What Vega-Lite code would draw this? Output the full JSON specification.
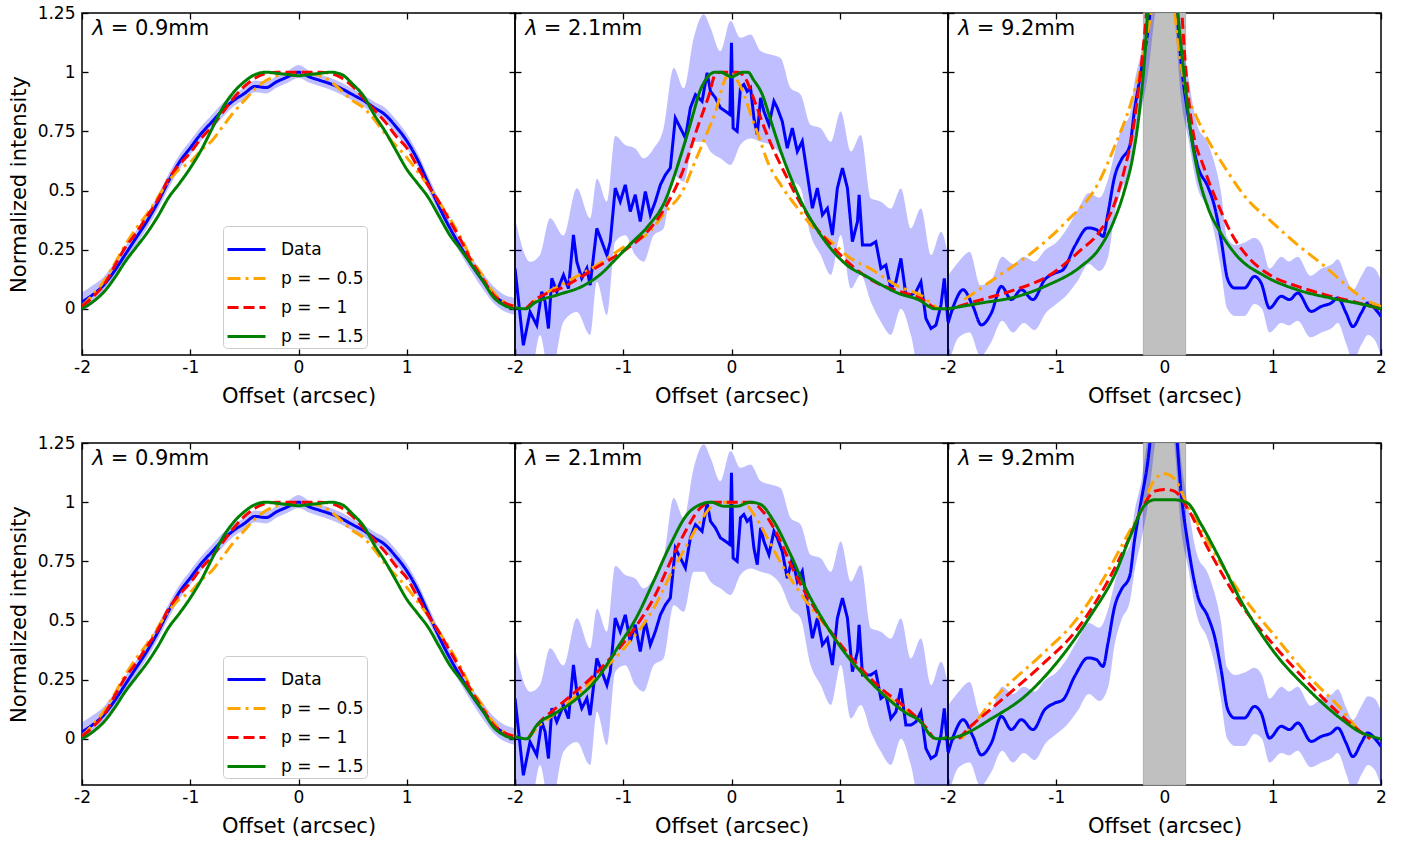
{
"$schema": "https://vega.github.io/schema/vega-lite/v6.json",
"padding": {"left": 7, "top": 3, "right": 5, "bottom": 5},
"bounds": "flush",
"config": {
  "font": "DejaVu Sans",
  "view": {"stroke": "black", "strokeWidth": 1.5},
  "axis": {"grid": false, "domain": false, "tickColor": "black", "tickWidth": 1.3, "tickSize": -6, "labelColor": "black", "labelFontSize": 17, "labelFont": "DejaVu Sans", "titleFont": "DejaVu Sans", "titleFontSize": 21, "titleFontWeight": "normal", "titleColor": "black", "labelFlush": false, "labelOverlap": false},
  "axisX": {"labelPadding": 10, "titlePadding": 10},
  "axisY": {"labelPadding": 13, "titlePadding": 8},
  "legend": {"orient": "none", "legendX": 141, "legendY": 213, "title": null, "fillColor": "rgba(255,255,255,0.8)", "strokeColor": "#cccccc", "cornerRadius": 4, "padding": 3, "labelFontSize": 17, "labelFont": "DejaVu Sans", "labelColor": "black", "symbolType": "stroke", "symbolSize": 1444, "symbolStrokeWidth": 3, "rowPadding": -2, "labelOffset": 14}
},
"datasets": {
"band": [
{"lam":"0.9","x":-2.0,"lo":-0.01,"hi":0.07},{"lam":"0.9","x":-1.9,"lo":0.02,"hi":0.1},{"lam":"0.9","x":-1.8,"lo":0.065,"hi":0.135},{"lam":"0.9","x":-1.7,"lo":0.125,"hi":0.195},{"lam":"0.9","x":-1.6,"lo":0.195,"hi":0.265},{"lam":"0.9","x":-1.5,"lo":0.27,"hi":0.33},{"lam":"0.9","x":-1.4,"lo":0.34,"hi":0.4},{"lam":"0.9","x":-1.3,"lo":0.42,"hi":0.48},{"lam":"0.9","x":-1.2,"lo":0.51,"hi":0.57},{"lam":"0.9","x":-1.1,"lo":0.59,"hi":0.65},{"lam":"0.9","x":-1.0,"lo":0.65,"hi":0.71},{"lam":"0.9","x":-0.9,"lo":0.71,"hi":0.77},{"lam":"0.9","x":-0.8,"lo":0.76,"hi":0.82},{"lam":"0.9","x":-0.7,"lo":0.81,"hi":0.87},{"lam":"0.9","x":-0.6,"lo":0.855,"hi":0.905},{"lam":"0.9","x":-0.5,"lo":0.885,"hi":0.935},{"lam":"0.9","x":-0.4,"lo":0.915,"hi":0.965},{"lam":"0.9","x":-0.3,"lo":0.91,"hi":0.96},{"lam":"0.9","x":-0.2,"lo":0.935,"hi":0.985},{"lam":"0.9","x":-0.1,"lo":0.955,"hi":1.005},{"lam":"0.9","x":0.0,"lo":0.975,"hi":1.03},{"lam":"0.9","x":0.1,"lo":0.955,"hi":1.005},{"lam":"0.9","x":0.2,"lo":0.94,"hi":0.99},{"lam":"0.9","x":0.3,"lo":0.925,"hi":0.975},{"lam":"0.9","x":0.4,"lo":0.905,"hi":0.955},{"lam":"0.9","x":0.5,"lo":0.88,"hi":0.93},{"lam":"0.9","x":0.6,"lo":0.855,"hi":0.905},{"lam":"0.9","x":0.7,"lo":0.825,"hi":0.875},{"lam":"0.9","x":0.8,"lo":0.79,"hi":0.85},{"lam":"0.9","x":0.9,"lo":0.74,"hi":0.8},{"lam":"0.9","x":1.0,"lo":0.68,"hi":0.74},{"lam":"0.9","x":1.1,"lo":0.6,"hi":0.66},{"lam":"0.9","x":1.2,"lo":0.5,"hi":0.56},{"lam":"0.9","x":1.3,"lo":0.4,"hi":0.46},{"lam":"0.9","x":1.4,"lo":0.31,"hi":0.37},{"lam":"0.9","x":1.5,"lo":0.23,"hi":0.29},{"lam":"0.9","x":1.6,"lo":0.155,"hi":0.215},{"lam":"0.9","x":1.7,"lo":0.085,"hi":0.155},{"lam":"0.9","x":1.8,"lo":0.025,"hi":0.095},{"lam":"0.9","x":1.9,"lo":-0.01,"hi":0.06},{"lam":"0.9","x":2.0,"lo":-0.025,"hi":0.045},
{"lam":"2.1","x":-2.0,"lo":-0.3,"hi":0.383},{"lam":"2.1","x":-1.861,"lo":-0.3,"hi":0.199},{"lam":"2.1","x":-1.769,"lo":-0.11,"hi":0.228},{"lam":"2.1","x":-1.676,"lo":-0.3,"hi":0.383},{"lam":"2.1","x":-1.552,"lo":-0.055,"hi":0.31},{"lam":"2.1","x":-1.429,"lo":-0.013,"hi":0.51},{"lam":"2.1","x":-1.306,"lo":-0.11,"hi":0.383},{"lam":"2.1","x":-1.244,"lo":0.114,"hi":0.55},{"lam":"2.1","x":-1.151,"lo":-0.027,"hi":0.453},{"lam":"2.1","x":-1.074,"lo":0.284,"hi":0.73},{"lam":"2.1","x":-0.981,"lo":0.311,"hi":0.692},{"lam":"2.1","x":-0.889,"lo":0.227,"hi":0.678},{"lam":"2.1","x":-0.812,"lo":0.199,"hi":0.636},{"lam":"2.1","x":-0.719,"lo":0.311,"hi":0.678},{"lam":"2.1","x":-0.627,"lo":0.34,"hi":0.763},{"lam":"2.1","x":-0.534,"lo":0.565,"hi":1.018},{"lam":"2.1","x":-0.441,"lo":0.537,"hi":0.932},{"lam":"2.1","x":-0.349,"lo":0.706,"hi":1.145},{"lam":"2.1","x":-0.256,"lo":0.706,"hi":1.245},{"lam":"2.1","x":-0.194,"lo":0.664,"hi":1.188},{"lam":"2.1","x":-0.102,"lo":0.636,"hi":1.089},{"lam":"2.1","x":-0.009,"lo":0.608,"hi":1.216},{"lam":"2.1","x":0.083,"lo":0.693,"hi":1.145},{"lam":"2.1","x":0.176,"lo":0.72,"hi":1.159},{"lam":"2.1","x":0.269,"lo":0.706,"hi":1.089},{"lam":"2.1","x":0.361,"lo":0.693,"hi":1.075},{"lam":"2.1","x":0.454,"lo":0.65,"hi":1.06},{"lam":"2.1","x":0.546,"lo":0.552,"hi":0.933},{"lam":"2.1","x":0.639,"lo":0.509,"hi":0.905},{"lam":"2.1","x":0.731,"lo":0.312,"hi":0.778},{"lam":"2.1","x":0.824,"lo":0.227,"hi":0.763},{"lam":"2.1","x":0.917,"lo":0.143,"hi":0.706},{"lam":"2.1","x":1.009,"lo":0.312,"hi":0.834},{"lam":"2.1","x":1.102,"lo":0.086,"hi":0.665},{"lam":"2.1","x":1.194,"lo":0.143,"hi":0.735},{"lam":"2.1","x":1.287,"lo":0.03,"hi":0.467},{"lam":"2.1","x":1.38,"lo":-0.055,"hi":0.453},{"lam":"2.1","x":1.472,"lo":-0.11,"hi":0.424},{"lam":"2.1","x":1.565,"lo":0.0,"hi":0.509},{"lam":"2.1","x":1.657,"lo":-0.11,"hi":0.34},{"lam":"2.1","x":1.75,"lo":-0.3,"hi":0.424},{"lam":"2.1","x":1.843,"lo":-0.3,"hi":0.227},{"lam":"2.1","x":1.935,"lo":-0.3,"hi":0.326},{"lam":"2.1","x":2.0,"lo":-0.3,"hi":0.227},
{"lam":"9.2","x":-2.0,"lo":-0.25,"hi":0.14},{"lam":"9.2","x":-1.9,"lo":-0.12,"hi":0.2},{"lam":"9.2","x":-1.8,"lo":-0.1,"hi":0.24},{"lam":"9.2","x":-1.7,"lo":-0.2,"hi":0.1},{"lam":"9.2","x":-1.6,"lo":-0.14,"hi":0.12},{"lam":"9.2","x":-1.5,"lo":-0.05,"hi":0.22},{"lam":"9.2","x":-1.4,"lo":-0.1,"hi":0.19},{"lam":"9.2","x":-1.3,"lo":-0.06,"hi":0.22},{"lam":"9.2","x":-1.2,"lo":-0.09,"hi":0.2},{"lam":"9.2","x":-1.1,"lo":-0.02,"hi":0.25},{"lam":"9.2","x":-1.0,"lo":0.02,"hi":0.28},{"lam":"9.2","x":-0.9,"lo":0.06,"hi":0.34},{"lam":"9.2","x":-0.8,"lo":0.12,"hi":0.42},{"lam":"9.2","x":-0.7,"lo":0.19,"hi":0.49},{"lam":"9.2","x":-0.6,"lo":0.16,"hi":0.47},{"lam":"9.2","x":-0.52,"lo":0.22,"hi":0.55},{"lam":"9.2","x":-0.46,"lo":0.4,"hi":0.66},{"lam":"9.2","x":-0.4,"lo":0.5,"hi":0.76},{"lam":"9.2","x":-0.32,"lo":0.58,"hi":0.82},{"lam":"9.2","x":-0.28,"lo":0.7,"hi":0.95},{"lam":"9.2","x":-0.21,"lo":0.85,"hi":1.1},{"lam":"9.2","x":-0.15,"lo":1.0,"hi":1.3},{"lam":"9.2","x":-0.1,"lo":1.2,"hi":1.5},{"lam":"9.2","x":0.0,"lo":1.5,"hi":1.9},{"lam":"9.2","x":0.1,"lo":1.2,"hi":1.5},{"lam":"9.2","x":0.15,"lo":0.9,"hi":1.2},{"lam":"9.2","x":0.22,"lo":0.72,"hi":0.98},{"lam":"9.2","x":0.3,"lo":0.52,"hi":0.78},{"lam":"9.2","x":0.4,"lo":0.42,"hi":0.7},{"lam":"9.2","x":0.46,"lo":0.32,"hi":0.62},{"lam":"9.2","x":0.52,"lo":0.17,"hi":0.5},{"lam":"9.2","x":0.58,"lo":0.0,"hi":0.3},{"lam":"9.2","x":0.65,"lo":-0.03,"hi":0.27},{"lam":"9.2","x":0.74,"lo":-0.03,"hi":0.28},{"lam":"9.2","x":0.83,"lo":0.02,"hi":0.3},{"lam":"9.2","x":0.9,"lo":0.0,"hi":0.27},{"lam":"9.2","x":0.97,"lo":-0.1,"hi":0.17},{"lam":"9.2","x":1.08,"lo":-0.06,"hi":0.22},{"lam":"9.2","x":1.15,"lo":-0.07,"hi":0.2},{"lam":"9.2","x":1.23,"lo":-0.05,"hi":0.22},{"lam":"9.2","x":1.35,"lo":-0.12,"hi":0.14},{"lam":"9.2","x":1.45,"lo":-0.1,"hi":0.17},{"lam":"9.2","x":1.55,"lo":-0.08,"hi":0.19},{"lam":"9.2","x":1.6,"lo":-0.06,"hi":0.21},{"lam":"9.2","x":1.68,"lo":-0.15,"hi":0.13},{"lam":"9.2","x":1.74,"lo":-0.22,"hi":0.08},{"lam":"9.2","x":1.82,"lo":-0.15,"hi":0.14},{"lam":"9.2","x":1.88,"lo":-0.11,"hi":0.18},{"lam":"9.2","x":1.94,"lo":-0.13,"hi":0.17},{"lam":"9.2","x":2.0,"lo":-0.2,"hi":0.12}
],
"lines": [
{"lam":"0.9","row":0,"series":"Data","x":-2.0,"y":0.03},{"lam":"0.9","row":0,"series":"Data","x":-1.9,"y":0.06},{"lam":"0.9","row":0,"series":"Data","x":-1.8,"y":0.1},{"lam":"0.9","row":0,"series":"Data","x":-1.7,"y":0.16},{"lam":"0.9","row":0,"series":"Data","x":-1.6,"y":0.23},{"lam":"0.9","row":0,"series":"Data","x":-1.5,"y":0.3},{"lam":"0.9","row":0,"series":"Data","x":-1.4,"y":0.37},{"lam":"0.9","row":0,"series":"Data","x":-1.3,"y":0.45},{"lam":"0.9","row":0,"series":"Data","x":-1.2,"y":0.54},{"lam":"0.9","row":0,"series":"Data","x":-1.1,"y":0.62},{"lam":"0.9","row":0,"series":"Data","x":-1.0,"y":0.68},{"lam":"0.9","row":0,"series":"Data","x":-0.9,"y":0.74},{"lam":"0.9","row":0,"series":"Data","x":-0.8,"y":0.79},{"lam":"0.9","row":0,"series":"Data","x":-0.7,"y":0.84},{"lam":"0.9","row":0,"series":"Data","x":-0.6,"y":0.88},{"lam":"0.9","row":0,"series":"Data","x":-0.5,"y":0.91},{"lam":"0.9","row":0,"series":"Data","x":-0.4,"y":0.94},{"lam":"0.9","row":0,"series":"Data","x":-0.3,"y":0.935},{"lam":"0.9","row":0,"series":"Data","x":-0.2,"y":0.96},{"lam":"0.9","row":0,"series":"Data","x":-0.1,"y":0.98},{"lam":"0.9","row":0,"series":"Data","x":0.0,"y":1.0},{"lam":"0.9","row":0,"series":"Data","x":0.1,"y":0.98},{"lam":"0.9","row":0,"series":"Data","x":0.2,"y":0.965},{"lam":"0.9","row":0,"series":"Data","x":0.3,"y":0.95},{"lam":"0.9","row":0,"series":"Data","x":0.4,"y":0.93},{"lam":"0.9","row":0,"series":"Data","x":0.5,"y":0.905},{"lam":"0.9","row":0,"series":"Data","x":0.6,"y":0.88},{"lam":"0.9","row":0,"series":"Data","x":0.7,"y":0.85},{"lam":"0.9","row":0,"series":"Data","x":0.8,"y":0.82},{"lam":"0.9","row":0,"series":"Data","x":0.9,"y":0.77},{"lam":"0.9","row":0,"series":"Data","x":1.0,"y":0.71},{"lam":"0.9","row":0,"series":"Data","x":1.1,"y":0.63},{"lam":"0.9","row":0,"series":"Data","x":1.2,"y":0.53},{"lam":"0.9","row":0,"series":"Data","x":1.3,"y":0.43},{"lam":"0.9","row":0,"series":"Data","x":1.4,"y":0.34},{"lam":"0.9","row":0,"series":"Data","x":1.5,"y":0.26},{"lam":"0.9","row":0,"series":"Data","x":1.6,"y":0.185},{"lam":"0.9","row":0,"series":"Data","x":1.7,"y":0.12},{"lam":"0.9","row":0,"series":"Data","x":1.8,"y":0.06},{"lam":"0.9","row":0,"series":"Data","x":1.9,"y":0.025},{"lam":"0.9","row":0,"series":"Data","x":2.0,"y":0.01},
{"lam":"0.9","row":0,"series":"p = − 0.5","x":-2.0,"y":0.01},{"lam":"0.9","row":0,"series":"p = − 0.5","x":-1.9,"y":0.06},{"lam":"0.9","row":0,"series":"p = − 0.5","x":-1.8,"y":0.115},{"lam":"0.9","row":0,"series":"p = − 0.5","x":-1.7,"y":0.19},{"lam":"0.9","row":0,"series":"p = − 0.5","x":-1.6,"y":0.27},{"lam":"0.9","row":0,"series":"p = − 0.5","x":-1.5,"y":0.34},{"lam":"0.9","row":0,"series":"p = − 0.5","x":-1.4,"y":0.4},{"lam":"0.9","row":0,"series":"p = − 0.5","x":-1.3,"y":0.47},{"lam":"0.9","row":0,"series":"p = − 0.5","x":-1.2,"y":0.54},{"lam":"0.9","row":0,"series":"p = − 0.5","x":-1.1,"y":0.59},{"lam":"0.9","row":0,"series":"p = − 0.5","x":-1.0,"y":0.62},{"lam":"0.9","row":0,"series":"p = − 0.5","x":-0.9,"y":0.67},{"lam":"0.9","row":0,"series":"p = − 0.5","x":-0.8,"y":0.71},{"lam":"0.9","row":0,"series":"p = − 0.5","x":-0.7,"y":0.77},{"lam":"0.9","row":0,"series":"p = − 0.5","x":-0.6,"y":0.83},{"lam":"0.9","row":0,"series":"p = − 0.5","x":-0.5,"y":0.88},{"lam":"0.9","row":0,"series":"p = − 0.5","x":-0.4,"y":0.93},{"lam":"0.9","row":0,"series":"p = − 0.5","x":-0.3,"y":0.965},{"lam":"0.9","row":0,"series":"p = − 0.5","x":-0.2,"y":0.985},{"lam":"0.9","row":0,"series":"p = − 0.5","x":-0.1,"y":0.995},{"lam":"0.9","row":0,"series":"p = − 0.5","x":0.0,"y":1.0},{"lam":"0.9","row":0,"series":"p = − 0.5","x":0.1,"y":0.995},{"lam":"0.9","row":0,"series":"p = − 0.5","x":0.2,"y":0.985},{"lam":"0.9","row":0,"series":"p = − 0.5","x":0.3,"y":0.96},{"lam":"0.9","row":0,"series":"p = − 0.5","x":0.4,"y":0.92},{"lam":"0.9","row":0,"series":"p = − 0.5","x":0.5,"y":0.88},{"lam":"0.9","row":0,"series":"p = − 0.5","x":0.6,"y":0.85},{"lam":"0.9","row":0,"series":"p = − 0.5","x":0.7,"y":0.8},{"lam":"0.9","row":0,"series":"p = − 0.5","x":0.8,"y":0.74},{"lam":"0.9","row":0,"series":"p = − 0.5","x":0.9,"y":0.69},{"lam":"0.9","row":0,"series":"p = − 0.5","x":1.0,"y":0.64},{"lam":"0.9","row":0,"series":"p = − 0.5","x":1.1,"y":0.58},{"lam":"0.9","row":0,"series":"p = − 0.5","x":1.2,"y":0.52},{"lam":"0.9","row":0,"series":"p = − 0.5","x":1.3,"y":0.45},{"lam":"0.9","row":0,"series":"p = − 0.5","x":1.4,"y":0.38},{"lam":"0.9","row":0,"series":"p = − 0.5","x":1.5,"y":0.3},{"lam":"0.9","row":0,"series":"p = − 0.5","x":1.6,"y":0.21},{"lam":"0.9","row":0,"series":"p = − 0.5","x":1.7,"y":0.14},{"lam":"0.9","row":0,"series":"p = − 0.5","x":1.8,"y":0.07},{"lam":"0.9","row":0,"series":"p = − 0.5","x":1.9,"y":0.03},{"lam":"0.9","row":0,"series":"p = − 0.5","x":2.0,"y":0.01},
{"lam":"0.9","row":0,"series":"p = − 1","x":-2.0,"y":0.01},{"lam":"0.9","row":0,"series":"p = − 1","x":-1.9,"y":0.05},{"lam":"0.9","row":0,"series":"p = − 1","x":-1.8,"y":0.1},{"lam":"0.9","row":0,"series":"p = − 1","x":-1.7,"y":0.18},{"lam":"0.9","row":0,"series":"p = − 1","x":-1.6,"y":0.26},{"lam":"0.9","row":0,"series":"p = − 1","x":-1.5,"y":0.32},{"lam":"0.9","row":0,"series":"p = − 1","x":-1.4,"y":0.39},{"lam":"0.9","row":0,"series":"p = − 1","x":-1.3,"y":0.46},{"lam":"0.9","row":0,"series":"p = − 1","x":-1.2,"y":0.55},{"lam":"0.9","row":0,"series":"p = − 1","x":-1.1,"y":0.61},{"lam":"0.9","row":0,"series":"p = − 1","x":-1.0,"y":0.66},{"lam":"0.9","row":0,"series":"p = − 1","x":-0.9,"y":0.72},{"lam":"0.9","row":0,"series":"p = − 1","x":-0.8,"y":0.77},{"lam":"0.9","row":0,"series":"p = − 1","x":-0.7,"y":0.83},{"lam":"0.9","row":0,"series":"p = − 1","x":-0.6,"y":0.89},{"lam":"0.9","row":0,"series":"p = − 1","x":-0.5,"y":0.94},{"lam":"0.9","row":0,"series":"p = − 1","x":-0.4,"y":0.975},{"lam":"0.9","row":0,"series":"p = − 1","x":-0.3,"y":0.995},{"lam":"0.9","row":0,"series":"p = − 1","x":-0.2,"y":1.0},{"lam":"0.9","row":0,"series":"p = − 1","x":0.0,"y":1.0},{"lam":"0.9","row":0,"series":"p = − 1","x":0.2,"y":1.0},{"lam":"0.9","row":0,"series":"p = − 1","x":0.3,"y":0.995},{"lam":"0.9","row":0,"series":"p = − 1","x":0.4,"y":0.975},{"lam":"0.9","row":0,"series":"p = − 1","x":0.5,"y":0.94},{"lam":"0.9","row":0,"series":"p = − 1","x":0.6,"y":0.89},{"lam":"0.9","row":0,"series":"p = − 1","x":0.7,"y":0.84},{"lam":"0.9","row":0,"series":"p = − 1","x":0.8,"y":0.79},{"lam":"0.9","row":0,"series":"p = − 1","x":0.9,"y":0.73},{"lam":"0.9","row":0,"series":"p = − 1","x":1.0,"y":0.68},{"lam":"0.9","row":0,"series":"p = − 1","x":1.1,"y":0.6},{"lam":"0.9","row":0,"series":"p = − 1","x":1.2,"y":0.52},{"lam":"0.9","row":0,"series":"p = − 1","x":1.3,"y":0.45},{"lam":"0.9","row":0,"series":"p = − 1","x":1.4,"y":0.37},{"lam":"0.9","row":0,"series":"p = − 1","x":1.5,"y":0.29},{"lam":"0.9","row":0,"series":"p = − 1","x":1.6,"y":0.2},{"lam":"0.9","row":0,"series":"p = − 1","x":1.7,"y":0.13},{"lam":"0.9","row":0,"series":"p = − 1","x":1.8,"y":0.06},{"lam":"0.9","row":0,"series":"p = − 1","x":1.9,"y":0.025},{"lam":"0.9","row":0,"series":"p = − 1","x":2.0,"y":0.01},
{"lam":"0.9","row":0,"series":"p = − 1.5","x":-2.0,"y":0.0},{"lam":"0.9","row":0,"series":"p = − 1.5","x":-1.9,"y":0.03},{"lam":"0.9","row":0,"series":"p = − 1.5","x":-1.8,"y":0.07},{"lam":"0.9","row":0,"series":"p = − 1.5","x":-1.7,"y":0.13},{"lam":"0.9","row":0,"series":"p = − 1.5","x":-1.6,"y":0.2},{"lam":"0.9","row":0,"series":"p = − 1.5","x":-1.5,"y":0.26},{"lam":"0.9","row":0,"series":"p = − 1.5","x":-1.4,"y":0.32},{"lam":"0.9","row":0,"series":"p = − 1.5","x":-1.3,"y":0.39},{"lam":"0.9","row":0,"series":"p = − 1.5","x":-1.2,"y":0.47},{"lam":"0.9","row":0,"series":"p = − 1.5","x":-1.1,"y":0.53},{"lam":"0.9","row":0,"series":"p = − 1.5","x":-1.0,"y":0.595},{"lam":"0.9","row":0,"series":"p = − 1.5","x":-0.9,"y":0.67},{"lam":"0.9","row":0,"series":"p = − 1.5","x":-0.8,"y":0.76},{"lam":"0.9","row":0,"series":"p = − 1.5","x":-0.7,"y":0.85},{"lam":"0.9","row":0,"series":"p = − 1.5","x":-0.6,"y":0.915},{"lam":"0.9","row":0,"series":"p = − 1.5","x":-0.5,"y":0.96},{"lam":"0.9","row":0,"series":"p = − 1.5","x":-0.4,"y":0.99},{"lam":"0.9","row":0,"series":"p = − 1.5","x":-0.3,"y":1.0},{"lam":"0.9","row":0,"series":"p = − 1.5","x":-0.2,"y":0.995},{"lam":"0.9","row":0,"series":"p = − 1.5","x":-0.1,"y":0.99},{"lam":"0.9","row":0,"series":"p = − 1.5","x":0.0,"y":0.985},{"lam":"0.9","row":0,"series":"p = − 1.5","x":0.1,"y":0.99},{"lam":"0.9","row":0,"series":"p = − 1.5","x":0.2,"y":0.995},{"lam":"0.9","row":0,"series":"p = − 1.5","x":0.3,"y":1.0},{"lam":"0.9","row":0,"series":"p = − 1.5","x":0.4,"y":0.99},{"lam":"0.9","row":0,"series":"p = − 1.5","x":0.5,"y":0.95},{"lam":"0.9","row":0,"series":"p = − 1.5","x":0.6,"y":0.9},{"lam":"0.9","row":0,"series":"p = − 1.5","x":0.7,"y":0.82},{"lam":"0.9","row":0,"series":"p = − 1.5","x":0.8,"y":0.75},{"lam":"0.9","row":0,"series":"p = − 1.5","x":0.9,"y":0.67},{"lam":"0.9","row":0,"series":"p = − 1.5","x":1.0,"y":0.59},{"lam":"0.9","row":0,"series":"p = − 1.5","x":1.1,"y":0.53},{"lam":"0.9","row":0,"series":"p = − 1.5","x":1.2,"y":0.47},{"lam":"0.9","row":0,"series":"p = − 1.5","x":1.3,"y":0.39},{"lam":"0.9","row":0,"series":"p = − 1.5","x":1.4,"y":0.31},{"lam":"0.9","row":0,"series":"p = − 1.5","x":1.5,"y":0.25},{"lam":"0.9","row":0,"series":"p = − 1.5","x":1.6,"y":0.185},{"lam":"0.9","row":0,"series":"p = − 1.5","x":1.7,"y":0.12},{"lam":"0.9","row":0,"series":"p = − 1.5","x":1.8,"y":0.05},{"lam":"0.9","row":0,"series":"p = − 1.5","x":1.9,"y":0.015},{"lam":"0.9","row":0,"series":"p = − 1.5","x":2.0,"y":0.0},
{"lam":"2.1","row":0,"series":"Data","x":-2.0,"y":0.171},{"lam":"2.1","row":0,"series":"Data","x":-1.923,"y":-0.154},{"lam":"2.1","row":0,"series":"Data","x":-1.861,"y":-0.013},{"lam":"2.1","row":0,"series":"Data","x":-1.799,"y":-0.069},{"lam":"2.1","row":0,"series":"Data","x":-1.753,"y":0.072},{"lam":"2.1","row":0,"series":"Data","x":-1.722,"y":0.03},{"lam":"2.1","row":0,"series":"Data","x":-1.691,"y":-0.083},{"lam":"2.1","row":0,"series":"Data","x":-1.66,"y":0.129},{"lam":"2.1","row":0,"series":"Data","x":-1.614,"y":0.072},{"lam":"2.1","row":0,"series":"Data","x":-1.552,"y":0.143},{"lam":"2.1","row":0,"series":"Data","x":-1.506,"y":0.086},{"lam":"2.1","row":0,"series":"Data","x":-1.46,"y":0.312},{"lam":"2.1","row":0,"series":"Data","x":-1.429,"y":0.199},{"lam":"2.1","row":0,"series":"Data","x":-1.383,"y":0.129},{"lam":"2.1","row":0,"series":"Data","x":-1.336,"y":0.171},{"lam":"2.1","row":0,"series":"Data","x":-1.306,"y":0.1},{"lam":"2.1","row":0,"series":"Data","x":-1.244,"y":0.34},{"lam":"2.1","row":0,"series":"Data","x":-1.198,"y":0.284},{"lam":"2.1","row":0,"series":"Data","x":-1.151,"y":0.227},{"lam":"2.1","row":0,"series":"Data","x":-1.12,"y":0.284},{"lam":"2.1","row":0,"series":"Data","x":-1.074,"y":0.51},{"lam":"2.1","row":0,"series":"Data","x":-1.028,"y":0.453},{"lam":"2.1","row":0,"series":"Data","x":-0.981,"y":0.524},{"lam":"2.1","row":0,"series":"Data","x":-0.935,"y":0.411},{"lam":"2.1","row":0,"series":"Data","x":-0.889,"y":0.482},{"lam":"2.1","row":0,"series":"Data","x":-0.843,"y":0.369},{"lam":"2.1","row":0,"series":"Data","x":-0.796,"y":0.496},{"lam":"2.1","row":0,"series":"Data","x":-0.75,"y":0.397},{"lam":"2.1","row":0,"series":"Data","x":-0.704,"y":0.453},{"lam":"2.1","row":0,"series":"Data","x":-0.657,"y":0.524},{"lam":"2.1","row":0,"series":"Data","x":-0.611,"y":0.566},{"lam":"2.1","row":0,"series":"Data","x":-0.565,"y":0.595},{"lam":"2.1","row":0,"series":"Data","x":-0.519,"y":0.806},{"lam":"2.1","row":0,"series":"Data","x":-0.472,"y":0.764},{"lam":"2.1","row":0,"series":"Data","x":-0.426,"y":0.722},{"lam":"2.1","row":0,"series":"Data","x":-0.38,"y":0.849},{"lam":"2.1","row":0,"series":"Data","x":-0.333,"y":0.905},{"lam":"2.1","row":0,"series":"Data","x":-0.272,"y":0.877},{"lam":"2.1","row":0,"series":"Data","x":-0.225,"y":0.997},{"lam":"2.1","row":0,"series":"Data","x":-0.194,"y":0.919},{"lam":"2.1","row":0,"series":"Data","x":-0.148,"y":0.891},{"lam":"2.1","row":0,"series":"Data","x":-0.102,"y":0.849},{"lam":"2.1","row":0,"series":"Data","x":-0.056,"y":0.835},{"lam":"2.1","row":0,"series":"Data","x":-0.015,"y":0.821},{"lam":"2.1","row":0,"series":"Data","x":0.0,"y":1.124},{"lam":"2.1","row":0,"series":"Data","x":0.015,"y":0.764},{"lam":"2.1","row":0,"series":"Data","x":0.052,"y":0.75},{"lam":"2.1","row":0,"series":"Data","x":0.083,"y":0.934},{"lam":"2.1","row":0,"series":"Data","x":0.114,"y":0.948},{"lam":"2.1","row":0,"series":"Data","x":0.145,"y":0.919},{"lam":"2.1","row":0,"series":"Data","x":0.176,"y":0.934},{"lam":"2.1","row":0,"series":"Data","x":0.207,"y":0.806},{"lam":"2.1","row":0,"series":"Data","x":0.238,"y":0.736},{"lam":"2.1","row":0,"series":"Data","x":0.269,"y":0.891},{"lam":"2.1","row":0,"series":"Data","x":0.299,"y":0.835},{"lam":"2.1","row":0,"series":"Data","x":0.346,"y":0.778},{"lam":"2.1","row":0,"series":"Data","x":0.392,"y":0.877},{"lam":"2.1","row":0,"series":"Data","x":0.423,"y":0.849},{"lam":"2.1","row":0,"series":"Data","x":0.469,"y":0.792},{"lam":"2.1","row":0,"series":"Data","x":0.515,"y":0.679},{"lam":"2.1","row":0,"series":"Data","x":0.562,"y":0.764},{"lam":"2.1","row":0,"series":"Data","x":0.608,"y":0.665},{"lam":"2.1","row":0,"series":"Data","x":0.654,"y":0.708},{"lam":"2.1","row":0,"series":"Data","x":0.701,"y":0.566},{"lam":"2.1","row":0,"series":"Data","x":0.747,"y":0.425},{"lam":"2.1","row":0,"series":"Data","x":0.793,"y":0.51},{"lam":"2.1","row":0,"series":"Data","x":0.84,"y":0.397},{"lam":"2.1","row":0,"series":"Data","x":0.886,"y":0.425},{"lam":"2.1","row":0,"series":"Data","x":0.932,"y":0.312},{"lam":"2.1","row":0,"series":"Data","x":0.978,"y":0.51},{"lam":"2.1","row":0,"series":"Data","x":1.025,"y":0.595},{"lam":"2.1","row":0,"series":"Data","x":1.071,"y":0.51},{"lam":"2.1","row":0,"series":"Data","x":1.117,"y":0.284},{"lam":"2.1","row":0,"series":"Data","x":1.164,"y":0.369},{"lam":"2.1","row":0,"series":"Data","x":1.179,"y":0.482},{"lam":"2.1","row":0,"series":"Data","x":1.21,"y":0.27},{"lam":"2.1","row":0,"series":"Data","x":1.241,"y":0.27},{"lam":"2.1","row":0,"series":"Data","x":1.287,"y":0.27},{"lam":"2.1","row":0,"series":"Data","x":1.333,"y":0.284},{"lam":"2.1","row":0,"series":"Data","x":1.38,"y":0.171},{"lam":"2.1","row":0,"series":"Data","x":1.426,"y":0.185},{"lam":"2.1","row":0,"series":"Data","x":1.472,"y":0.086},{"lam":"2.1","row":0,"series":"Data","x":1.519,"y":0.114},{"lam":"2.1","row":0,"series":"Data","x":1.565,"y":0.213},{"lam":"2.1","row":0,"series":"Data","x":1.611,"y":0.058},{"lam":"2.1","row":0,"series":"Data","x":1.657,"y":0.058},{"lam":"2.1","row":0,"series":"Data","x":1.704,"y":0.072},{"lam":"2.1","row":0,"series":"Data","x":1.75,"y":0.114},{"lam":"2.1","row":0,"series":"Data","x":1.796,"y":-0.041},{"lam":"2.1","row":0,"series":"Data","x":1.843,"y":-0.083},{"lam":"2.1","row":0,"series":"Data","x":1.889,"y":-0.069},{"lam":"2.1","row":0,"series":"Data","x":1.935,"y":0.016},{"lam":"2.1","row":0,"series":"Data","x":1.966,"y":0.129},{"lam":"2.1","row":0,"series":"Data","x":2.0,"y":-0.055},
{"lam":"2.1","row":1,"series":"p = − 0.5","x":-1.9,"y":0.0},{"lam":"2.1","row":1,"series":"p = − 0.5","x":-1.8,"y":0.04},{"lam":"2.1","row":1,"series":"p = − 0.5","x":-1.54,"y":0.11},{"lam":"2.1","row":1,"series":"p = − 0.5","x":-1.26,"y":0.18},{"lam":"2.1","row":1,"series":"p = − 0.5","x":-0.98,"y":0.265},{"lam":"2.1","row":1,"series":"p = − 0.5","x":-0.77,"y":0.32},{"lam":"2.1","row":1,"series":"p = − 0.5","x":-0.61,"y":0.41},{"lam":"2.1","row":1,"series":"p = − 0.5","x":-0.46,"y":0.49},{"lam":"2.1","row":1,"series":"p = − 0.5","x":-0.33,"y":0.63},{"lam":"2.1","row":1,"series":"p = − 0.5","x":-0.22,"y":0.75},{"lam":"2.1","row":1,"series":"p = − 0.5","x":-0.15,"y":0.83},{"lam":"2.1","row":1,"series":"p = − 0.5","x":-0.06,"y":0.97},{"lam":"2.1","row":1,"series":"p = − 0.5","x":0.0,"y":1.0},{"lam":"2.1","row":1,"series":"p = − 0.5","x":0.06,"y":0.96},{"lam":"2.1","row":1,"series":"p = − 0.5","x":0.12,"y":0.9},{"lam":"2.1","row":1,"series":"p = − 0.5","x":0.185,"y":0.81},{"lam":"2.1","row":1,"series":"p = − 0.5","x":0.25,"y":0.73},{"lam":"2.1","row":1,"series":"p = − 0.5","x":0.34,"y":0.615},{"lam":"2.1","row":1,"series":"p = − 0.5","x":0.46,"y":0.52},{"lam":"2.1","row":1,"series":"p = − 0.5","x":0.62,"y":0.42},{"lam":"2.1","row":1,"series":"p = − 0.5","x":0.77,"y":0.335},{"lam":"2.1","row":1,"series":"p = − 0.5","x":0.93,"y":0.28},{"lam":"2.1","row":1,"series":"p = − 0.5","x":1.08,"y":0.22},{"lam":"2.1","row":1,"series":"p = − 0.5","x":1.3,"y":0.165},{"lam":"2.1","row":1,"series":"p = − 0.5","x":1.54,"y":0.095},{"lam":"2.1","row":1,"series":"p = − 0.5","x":1.76,"y":0.054},{"lam":"2.1","row":1,"series":"p = − 0.5","x":1.88,"y":0.01},{"lam":"2.1","row":1,"series":"p = − 0.5","x":1.92,"y":0.0},
{"lam":"2.1","row":1,"series":"p = − 1","x":-1.9,"y":0.0},{"lam":"2.1","row":1,"series":"p = − 1","x":-1.82,"y":0.035},{"lam":"2.1","row":1,"series":"p = − 1","x":-1.54,"y":0.095},{"lam":"2.1","row":1,"series":"p = − 1","x":-1.23,"y":0.18},{"lam":"2.1","row":1,"series":"p = − 1","x":-0.98,"y":0.25},{"lam":"2.1","row":1,"series":"p = − 1","x":-0.77,"y":0.33},{"lam":"2.1","row":1,"series":"p = − 1","x":-0.61,"y":0.43},{"lam":"2.1","row":1,"series":"p = − 1","x":-0.46,"y":0.57},{"lam":"2.1","row":1,"series":"p = − 1","x":-0.3,"y":0.785},{"lam":"2.1","row":1,"series":"p = − 1","x":-0.21,"y":0.9},{"lam":"2.1","row":1,"series":"p = − 1","x":-0.15,"y":0.99},{"lam":"2.1","row":1,"series":"p = − 1","x":-0.1,"y":1.0},{"lam":"2.1","row":1,"series":"p = − 1","x":0.0,"y":1.0},{"lam":"2.1","row":1,"series":"p = − 1","x":0.06,"y":1.0},{"lam":"2.1","row":1,"series":"p = − 1","x":0.12,"y":0.98},{"lam":"2.1","row":1,"series":"p = − 1","x":0.22,"y":0.87},{"lam":"2.1","row":1,"series":"p = − 1","x":0.31,"y":0.757},{"lam":"2.1","row":1,"series":"p = − 1","x":0.4,"y":0.66},{"lam":"2.1","row":1,"series":"p = − 1","x":0.49,"y":0.575},{"lam":"2.1","row":1,"series":"p = − 1","x":0.62,"y":0.46},{"lam":"2.1","row":1,"series":"p = − 1","x":0.77,"y":0.35},{"lam":"2.1","row":1,"series":"p = − 1","x":0.93,"y":0.265},{"lam":"2.1","row":1,"series":"p = − 1","x":1.08,"y":0.195},{"lam":"2.1","row":1,"series":"p = − 1","x":1.3,"y":0.12},{"lam":"2.1","row":1,"series":"p = − 1","x":1.54,"y":0.075},{"lam":"2.1","row":1,"series":"p = − 1","x":1.76,"y":0.04},{"lam":"2.1","row":1,"series":"p = − 1","x":1.88,"y":0.0},
{"lam":"2.1","row":1,"series":"p = − 1.5","x":-2.0,"y":0.005},{"lam":"2.1","row":1,"series":"p = − 1.5","x":-1.9,"y":0.0},{"lam":"2.1","row":1,"series":"p = − 1.5","x":-1.82,"y":0.025},{"lam":"2.1","row":1,"series":"p = − 1.5","x":-1.6,"y":0.06},{"lam":"2.1","row":1,"series":"p = − 1.5","x":-1.38,"y":0.095},{"lam":"2.1","row":1,"series":"p = − 1.5","x":-1.2,"y":0.15},{"lam":"2.1","row":1,"series":"p = − 1.5","x":-1.07,"y":0.21},{"lam":"2.1","row":1,"series":"p = − 1.5","x":-0.92,"y":0.28},{"lam":"2.1","row":1,"series":"p = − 1.5","x":-0.77,"y":0.35},{"lam":"2.1","row":1,"series":"p = − 1.5","x":-0.61,"y":0.46},{"lam":"2.1","row":1,"series":"p = − 1.5","x":-0.53,"y":0.56},{"lam":"2.1","row":1,"series":"p = − 1.5","x":-0.46,"y":0.66},{"lam":"2.1","row":1,"series":"p = − 1.5","x":-0.4,"y":0.75},{"lam":"2.1","row":1,"series":"p = − 1.5","x":-0.35,"y":0.83},{"lam":"2.1","row":1,"series":"p = − 1.5","x":-0.3,"y":0.91},{"lam":"2.1","row":1,"series":"p = − 1.5","x":-0.25,"y":0.96},{"lam":"2.1","row":1,"series":"p = − 1.5","x":-0.2,"y":0.99},{"lam":"2.1","row":1,"series":"p = − 1.5","x":-0.15,"y":1.0},{"lam":"2.1","row":1,"series":"p = − 1.5","x":-0.1,"y":1.0},{"lam":"2.1","row":1,"series":"p = − 1.5","x":-0.05,"y":0.99},{"lam":"2.1","row":1,"series":"p = − 1.5","x":0.0,"y":0.98},{"lam":"2.1","row":1,"series":"p = − 1.5","x":0.05,"y":0.99},{"lam":"2.1","row":1,"series":"p = − 1.5","x":0.1,"y":1.0},{"lam":"2.1","row":1,"series":"p = − 1.5","x":0.154,"y":1.0},{"lam":"2.1","row":1,"series":"p = − 1.5","x":0.2,"y":0.97},{"lam":"2.1","row":1,"series":"p = − 1.5","x":0.28,"y":0.91},{"lam":"2.1","row":1,"series":"p = − 1.5","x":0.37,"y":0.785},{"lam":"2.1","row":1,"series":"p = − 1.5","x":0.46,"y":0.66},{"lam":"2.1","row":1,"series":"p = − 1.5","x":0.556,"y":0.545},{"lam":"2.1","row":1,"series":"p = − 1.5","x":0.65,"y":0.447},{"lam":"2.1","row":1,"series":"p = − 1.5","x":0.77,"y":0.35},{"lam":"2.1","row":1,"series":"p = − 1.5","x":0.926,"y":0.25},{"lam":"2.1","row":1,"series":"p = − 1.5","x":1.08,"y":0.18},{"lam":"2.1","row":1,"series":"p = − 1.5","x":1.235,"y":0.14},{"lam":"2.1","row":1,"series":"p = − 1.5","x":1.39,"y":0.1},{"lam":"2.1","row":1,"series":"p = − 1.5","x":1.54,"y":0.066},{"lam":"2.1","row":1,"series":"p = − 1.5","x":1.73,"y":0.038},{"lam":"2.1","row":1,"series":"p = − 1.5","x":1.88,"y":0.0},{"lam":"2.1","row":1,"series":"p = − 1.5","x":2.0,"y":0.0},
{"lam":"2.1","row":2,"series":"p = − 0.5","x":-1.88,"y":0.0},{"lam":"2.1","row":2,"series":"p = − 0.5","x":-1.8,"y":0.045},{"lam":"2.1","row":2,"series":"p = − 0.5","x":-1.61,"y":0.113},{"lam":"2.1","row":2,"series":"p = − 0.5","x":-1.27,"y":0.255},{"lam":"2.1","row":2,"series":"p = − 0.5","x":-0.966,"y":0.396},{"lam":"2.1","row":2,"series":"p = − 0.5","x":-0.72,"y":0.55},{"lam":"2.1","row":2,"series":"p = − 0.5","x":-0.534,"y":0.72},{"lam":"2.1","row":2,"series":"p = − 0.5","x":-0.41,"y":0.82},{"lam":"2.1","row":2,"series":"p = − 0.5","x":-0.287,"y":0.92},{"lam":"2.1","row":2,"series":"p = − 0.5","x":-0.16,"y":0.99},{"lam":"2.1","row":2,"series":"p = − 0.5","x":-0.07,"y":1.0},{"lam":"2.1","row":2,"series":"p = − 0.5","x":0.114,"y":0.997},{"lam":"2.1","row":2,"series":"p = − 0.5","x":0.207,"y":0.948},{"lam":"2.1","row":2,"series":"p = − 0.5","x":0.33,"y":0.85},{"lam":"2.1","row":2,"series":"p = − 0.5","x":0.485,"y":0.72},{"lam":"2.1","row":2,"series":"p = − 0.5","x":0.67,"y":0.594},{"lam":"2.1","row":2,"series":"p = − 0.5","x":0.886,"y":0.467},{"lam":"2.1","row":2,"series":"p = − 0.5","x":1.19,"y":0.283},{"lam":"2.1","row":2,"series":"p = − 0.5","x":1.5,"y":0.156},{"lam":"2.1","row":2,"series":"p = − 0.5","x":1.75,"y":0.07},{"lam":"2.1","row":2,"series":"p = − 0.5","x":1.84,"y":0.014},{"lam":"2.1","row":2,"series":"p = − 0.5","x":1.87,"y":0.0},
{"lam":"2.1","row":2,"series":"p = − 1","x":-1.88,"y":0.0},{"lam":"2.1","row":2,"series":"p = − 1","x":-1.8,"y":0.055},{"lam":"2.1","row":2,"series":"p = − 1","x":-1.61,"y":0.134},{"lam":"2.1","row":2,"series":"p = − 1","x":-1.27,"y":0.269},{"lam":"2.1","row":2,"series":"p = − 1","x":-0.966,"y":0.424},{"lam":"2.1","row":2,"series":"p = − 1","x":-0.72,"y":0.594},{"lam":"2.1","row":2,"series":"p = − 1","x":-0.534,"y":0.778},{"lam":"2.1","row":2,"series":"p = − 1","x":-0.41,"y":0.89},{"lam":"2.1","row":2,"series":"p = − 1","x":-0.287,"y":0.976},{"lam":"2.1","row":2,"series":"p = − 1","x":-0.19,"y":1.0},{"lam":"2.1","row":2,"series":"p = − 1","x":0.0,"y":1.0},{"lam":"2.1","row":2,"series":"p = − 1","x":0.176,"y":1.0},{"lam":"2.1","row":2,"series":"p = − 1","x":0.3,"y":0.955},{"lam":"2.1","row":2,"series":"p = − 1","x":0.423,"y":0.863},{"lam":"2.1","row":2,"series":"p = − 1","x":0.577,"y":0.707},{"lam":"2.1","row":2,"series":"p = − 1","x":0.73,"y":0.58},{"lam":"2.1","row":2,"series":"p = − 1","x":1.04,"y":0.38},{"lam":"2.1","row":2,"series":"p = − 1","x":1.35,"y":0.226},{"lam":"2.1","row":2,"series":"p = − 1","x":1.657,"y":0.113},{"lam":"2.1","row":2,"series":"p = − 1","x":1.81,"y":0.04},{"lam":"2.1","row":2,"series":"p = − 1","x":1.87,"y":0.0},
{"lam":"2.1","row":2,"series":"p = − 1.5","x":-2.0,"y":0.01},{"lam":"2.1","row":2,"series":"p = − 1.5","x":-1.89,"y":0.0},{"lam":"2.1","row":2,"series":"p = − 1.5","x":-1.8,"y":0.057},{"lam":"2.1","row":2,"series":"p = − 1.5","x":-1.61,"y":0.113},{"lam":"2.1","row":2,"series":"p = − 1.5","x":-1.43,"y":0.17},{"lam":"2.1","row":2,"series":"p = − 1.5","x":-1.24,"y":0.255},{"lam":"2.1","row":2,"series":"p = − 1.5","x":-1.06,"y":0.38},{"lam":"2.1","row":2,"series":"p = − 1.5","x":-0.87,"y":0.52},{"lam":"2.1","row":2,"series":"p = − 1.5","x":-0.72,"y":0.665},{"lam":"2.1","row":2,"series":"p = − 1.5","x":-0.565,"y":0.82},{"lam":"2.1","row":2,"series":"p = − 1.5","x":-0.41,"y":0.948},{"lam":"2.1","row":2,"series":"p = − 1.5","x":-0.287,"y":0.99},{"lam":"2.1","row":2,"series":"p = − 1.5","x":-0.19,"y":1.0},{"lam":"2.1","row":2,"series":"p = − 1.5","x":-0.07,"y":0.983},{"lam":"2.1","row":2,"series":"p = − 1.5","x":0.05,"y":0.983},{"lam":"2.1","row":2,"series":"p = − 1.5","x":0.176,"y":1.0},{"lam":"2.1","row":2,"series":"p = − 1.5","x":0.27,"y":0.99},{"lam":"2.1","row":2,"series":"p = − 1.5","x":0.39,"y":0.92},{"lam":"2.1","row":2,"series":"p = − 1.5","x":0.546,"y":0.778},{"lam":"2.1","row":2,"series":"p = − 1.5","x":0.7,"y":0.622},{"lam":"2.1","row":2,"series":"p = − 1.5","x":0.855,"y":0.495},{"lam":"2.1","row":2,"series":"p = − 1.5","x":1.04,"y":0.368},{"lam":"2.1","row":2,"series":"p = − 1.5","x":1.225,"y":0.269},{"lam":"2.1","row":2,"series":"p = − 1.5","x":1.41,"y":0.184},{"lam":"2.1","row":2,"series":"p = − 1.5","x":1.6,"y":0.113},{"lam":"2.1","row":2,"series":"p = − 1.5","x":1.75,"y":0.07},{"lam":"2.1","row":2,"series":"p = − 1.5","x":1.84,"y":0.014},{"lam":"2.1","row":2,"series":"p = − 1.5","x":1.9,"y":0.0},{"lam":"2.1","row":2,"series":"p = − 1.5","x":2.0,"y":0.007},
{"lam":"9.2","row":0,"series":"Data","x":-2.0,"y":-0.061},{"lam":"9.2","row":0,"series":"Data","x":-1.938,"y":0.025},{"lam":"9.2","row":0,"series":"Data","x":-1.861,"y":0.081},{"lam":"9.2","row":0,"series":"Data","x":-1.769,"y":0.01},{"lam":"9.2","row":0,"series":"Data","x":-1.692,"y":-0.068},{"lam":"9.2","row":0,"series":"Data","x":-1.6,"y":-0.018},{"lam":"9.2","row":0,"series":"Data","x":-1.507,"y":0.095},{"lam":"9.2","row":0,"series":"Data","x":-1.415,"y":0.039},{"lam":"9.2","row":0,"series":"Data","x":-1.323,"y":0.081},{"lam":"9.2","row":0,"series":"Data","x":-1.215,"y":0.039},{"lam":"9.2","row":0,"series":"Data","x":-1.107,"y":0.123},{"lam":"9.2","row":0,"series":"Data","x":-1.015,"y":0.151},{"lam":"9.2","row":0,"series":"Data","x":-0.938,"y":0.165},{"lam":"9.2","row":0,"series":"Data","x":-0.83,"y":0.264},{"lam":"9.2","row":0,"series":"Data","x":-0.707,"y":0.342},{"lam":"9.2","row":0,"series":"Data","x":-0.63,"y":0.335},{"lam":"9.2","row":0,"series":"Data","x":-0.568,"y":0.306},{"lam":"9.2","row":0,"series":"Data","x":-0.522,"y":0.405},{"lam":"9.2","row":0,"series":"Data","x":-0.46,"y":0.56},{"lam":"9.2","row":0,"series":"Data","x":-0.399,"y":0.63},{"lam":"9.2","row":0,"series":"Data","x":-0.322,"y":0.687},{"lam":"9.2","row":0,"series":"Data","x":-0.276,"y":0.842},{"lam":"9.2","row":0,"series":"Data","x":-0.214,"y":1.01},{"lam":"9.2","row":0,"series":"Data","x":-0.152,"y":1.179},{"lam":"9.2","row":0,"series":"Data","x":-0.1,"y":1.4},{"lam":"9.2","row":0,"series":"Data","x":0.0,"y":1.7},{"lam":"9.2","row":0,"series":"Data","x":0.1,"y":1.35},{"lam":"9.2","row":0,"series":"Data","x":0.154,"y":1.039},{"lam":"9.2","row":0,"series":"Data","x":0.215,"y":0.827},{"lam":"9.2","row":0,"series":"Data","x":0.308,"y":0.602},{"lam":"9.2","row":0,"series":"Data","x":0.4,"y":0.517},{"lam":"9.2","row":0,"series":"Data","x":0.462,"y":0.433},{"lam":"9.2","row":0,"series":"Data","x":0.523,"y":0.292},{"lam":"9.2","row":0,"series":"Data","x":0.585,"y":0.123},{"lam":"9.2","row":0,"series":"Data","x":0.647,"y":0.088},{"lam":"9.2","row":0,"series":"Data","x":0.739,"y":0.088},{"lam":"9.2","row":0,"series":"Data","x":0.831,"y":0.137},{"lam":"9.2","row":0,"series":"Data","x":0.893,"y":0.109},{"lam":"9.2","row":0,"series":"Data","x":0.97,"y":0.003},{"lam":"9.2","row":0,"series":"Data","x":1.078,"y":0.053},{"lam":"9.2","row":0,"series":"Data","x":1.155,"y":0.039},{"lam":"9.2","row":0,"series":"Data","x":1.232,"y":0.067},{"lam":"9.2","row":0,"series":"Data","x":1.355,"y":-0.011},{"lam":"9.2","row":0,"series":"Data","x":1.447,"y":0.01},{"lam":"9.2","row":0,"series":"Data","x":1.54,"y":0.025},{"lam":"9.2","row":0,"series":"Data","x":1.601,"y":0.046},{"lam":"9.2","row":0,"series":"Data","x":1.678,"y":-0.018},{"lam":"9.2","row":0,"series":"Data","x":1.74,"y":-0.075},{"lam":"9.2","row":0,"series":"Data","x":1.817,"y":-0.018},{"lam":"9.2","row":0,"series":"Data","x":1.878,"y":0.025},{"lam":"9.2","row":0,"series":"Data","x":1.94,"y":0.003},{"lam":"9.2","row":0,"series":"Data","x":2.0,"y":-0.032},
{"lam":"9.2","row":1,"series":"p = − 0.5","x":-1.85,"y":0.039},{"lam":"9.2","row":1,"series":"p = − 0.5","x":-1.54,"y":0.137},{"lam":"9.2","row":1,"series":"p = − 0.5","x":-1.23,"y":0.236},{"lam":"9.2","row":1,"series":"p = − 0.5","x":-0.92,"y":0.363},{"lam":"9.2","row":1,"series":"p = − 0.5","x":-0.61,"y":0.532},{"lam":"9.2","row":1,"series":"p = − 0.5","x":-0.46,"y":0.687},{"lam":"9.2","row":1,"series":"p = − 0.5","x":-0.31,"y":0.87},{"lam":"9.2","row":1,"series":"p = − 0.5","x":-0.21,"y":1.039},{"lam":"9.2","row":1,"series":"p = − 0.5","x":-0.15,"y":1.179},{"lam":"9.2","row":1,"series":"p = − 0.5","x":-0.1,"y":1.32},{"lam":"9.2","row":1,"series":"p = − 0.5","x":0.0,"y":1.7},{"lam":"9.2","row":1,"series":"p = − 0.5","x":0.09,"y":1.27},{"lam":"9.2","row":1,"series":"p = − 0.5","x":0.185,"y":0.94},{"lam":"9.2","row":1,"series":"p = − 0.5","x":0.277,"y":0.83},{"lam":"9.2","row":1,"series":"p = − 0.5","x":0.37,"y":0.74},{"lam":"9.2","row":1,"series":"p = − 0.5","x":0.554,"y":0.6},{"lam":"9.2","row":1,"series":"p = − 0.5","x":0.77,"y":0.46},{"lam":"9.2","row":1,"series":"p = − 0.5","x":0.985,"y":0.37},{"lam":"9.2","row":1,"series":"p = − 0.5","x":1.23,"y":0.27},{"lam":"9.2","row":1,"series":"p = − 0.5","x":1.48,"y":0.18},{"lam":"9.2","row":1,"series":"p = − 0.5","x":1.69,"y":0.095},{"lam":"9.2","row":1,"series":"p = − 0.5","x":1.85,"y":0.04},{"lam":"9.2","row":1,"series":"p = − 0.5","x":2.0,"y":0.01},
{"lam":"9.2","row":1,"series":"p = − 1","x":-1.91,"y":0.01},{"lam":"9.2","row":1,"series":"p = − 1","x":-1.69,"y":0.039},{"lam":"9.2","row":1,"series":"p = − 1","x":-1.38,"y":0.081},{"lam":"9.2","row":1,"series":"p = − 1","x":-1.08,"y":0.137},{"lam":"9.2","row":1,"series":"p = − 1","x":-0.77,"y":0.25},{"lam":"9.2","row":1,"series":"p = − 1","x":-0.61,"y":0.32},{"lam":"9.2","row":1,"series":"p = − 1","x":-0.46,"y":0.447},{"lam":"9.2","row":1,"series":"p = − 1","x":-0.37,"y":0.588},{"lam":"9.2","row":1,"series":"p = − 1","x":-0.29,"y":0.757},{"lam":"9.2","row":1,"series":"p = − 1","x":-0.23,"y":0.968},{"lam":"9.2","row":1,"series":"p = − 1","x":-0.18,"y":1.179},{"lam":"9.2","row":1,"series":"p = − 1","x":-0.14,"y":1.4},{"lam":"9.2","row":1,"series":"p = − 1","x":0.0,"y":2.0},{"lam":"9.2","row":1,"series":"p = − 1","x":0.14,"y":1.4},{"lam":"9.2","row":1,"series":"p = − 1","x":0.19,"y":1.05},{"lam":"9.2","row":1,"series":"p = − 1","x":0.246,"y":0.8},{"lam":"9.2","row":1,"series":"p = − 1","x":0.37,"y":0.59},{"lam":"9.2","row":1,"series":"p = − 1","x":0.49,"y":0.447},{"lam":"9.2","row":1,"series":"p = − 1","x":0.616,"y":0.32},{"lam":"9.2","row":1,"series":"p = − 1","x":0.77,"y":0.22},{"lam":"9.2","row":1,"series":"p = − 1","x":0.985,"y":0.14},{"lam":"9.2","row":1,"series":"p = − 1","x":1.23,"y":0.095},{"lam":"9.2","row":1,"series":"p = − 1","x":1.48,"y":0.06},{"lam":"9.2","row":1,"series":"p = − 1","x":1.72,"y":0.033},{"lam":"9.2","row":1,"series":"p = − 1","x":2.0,"y":0.0},
{"lam":"9.2","row":1,"series":"p = − 1.5","x":-2.0,"y":0.0},{"lam":"9.2","row":1,"series":"p = − 1.5","x":-1.69,"y":0.025},{"lam":"9.2","row":1,"series":"p = − 1.5","x":-1.38,"y":0.05},{"lam":"9.2","row":1,"series":"p = − 1.5","x":-1.08,"y":0.1},{"lam":"9.2","row":1,"series":"p = − 1.5","x":-0.77,"y":0.18},{"lam":"9.2","row":1,"series":"p = − 1.5","x":-0.61,"y":0.25},{"lam":"9.2","row":1,"series":"p = − 1.5","x":-0.46,"y":0.38},{"lam":"9.2","row":1,"series":"p = − 1.5","x":-0.37,"y":0.5},{"lam":"9.2","row":1,"series":"p = − 1.5","x":-0.29,"y":0.65},{"lam":"9.2","row":1,"series":"p = − 1.5","x":-0.23,"y":0.84},{"lam":"9.2","row":1,"series":"p = − 1.5","x":-0.18,"y":1.08},{"lam":"9.2","row":1,"series":"p = − 1.5","x":-0.15,"y":1.3},{"lam":"9.2","row":1,"series":"p = − 1.5","x":0.0,"y":2.2},{"lam":"9.2","row":1,"series":"p = − 1.5","x":0.12,"y":1.27},{"lam":"9.2","row":1,"series":"p = − 1.5","x":0.185,"y":0.97},{"lam":"9.2","row":1,"series":"p = − 1.5","x":0.23,"y":0.785},{"lam":"9.2","row":1,"series":"p = − 1.5","x":0.308,"y":0.575},{"lam":"9.2","row":1,"series":"p = − 1.5","x":0.4,"y":0.43},{"lam":"9.2","row":1,"series":"p = − 1.5","x":0.52,"y":0.32},{"lam":"9.2","row":1,"series":"p = − 1.5","x":0.677,"y":0.22},{"lam":"9.2","row":1,"series":"p = − 1.5","x":0.92,"y":0.14},{"lam":"9.2","row":1,"series":"p = − 1.5","x":1.23,"y":0.08},{"lam":"9.2","row":1,"series":"p = − 1.5","x":1.54,"y":0.045},{"lam":"9.2","row":1,"series":"p = − 1.5","x":1.85,"y":0.017},{"lam":"9.2","row":1,"series":"p = − 1.5","x":2.0,"y":0.0},
{"lam":"9.2","row":2,"series":"p = − 0.5","x":-1.88,"y":0.0},{"lam":"9.2","row":2,"series":"p = − 0.5","x":-1.8,"y":0.04},{"lam":"9.2","row":2,"series":"p = − 0.5","x":-1.6,"y":0.156},{"lam":"9.2","row":2,"series":"p = − 0.5","x":-1.14,"y":0.354},{"lam":"9.2","row":2,"series":"p = − 0.5","x":-0.83,"y":0.495},{"lam":"9.2","row":2,"series":"p = − 0.5","x":-0.525,"y":0.707},{"lam":"9.2","row":2,"series":"p = − 0.5","x":-0.34,"y":0.863},{"lam":"9.2","row":2,"series":"p = − 0.5","x":-0.22,"y":0.962},{"lam":"9.2","row":2,"series":"p = − 0.5","x":-0.09,"y":1.096},{"lam":"9.2","row":2,"series":"p = − 0.5","x":0.0,"y":1.12},{"lam":"9.2","row":2,"series":"p = − 0.5","x":0.09,"y":1.1},{"lam":"9.2","row":2,"series":"p = − 0.5","x":0.21,"y":0.99},{"lam":"9.2","row":2,"series":"p = − 0.5","x":0.4,"y":0.834},{"lam":"9.2","row":2,"series":"p = − 0.5","x":0.55,"y":0.72},{"lam":"9.2","row":2,"series":"p = − 0.5","x":0.71,"y":0.61},{"lam":"9.2","row":2,"series":"p = − 0.5","x":1.01,"y":0.44},{"lam":"9.2","row":2,"series":"p = − 0.5","x":1.32,"y":0.27},{"lam":"9.2","row":2,"series":"p = − 0.5","x":1.63,"y":0.127},{"lam":"9.2","row":2,"series":"p = − 0.5","x":1.81,"y":0.03},{"lam":"9.2","row":2,"series":"p = − 0.5","x":1.9,"y":0.0},
{"lam":"9.2","row":2,"series":"p = − 1","x":-1.9,"y":0.0},{"lam":"9.2","row":2,"series":"p = − 1","x":-1.82,"y":0.04},{"lam":"9.2","row":2,"series":"p = − 1","x":-1.6,"y":0.127},{"lam":"9.2","row":2,"series":"p = − 1","x":-1.14,"y":0.31},{"lam":"9.2","row":2,"series":"p = − 1","x":-0.83,"y":0.45},{"lam":"9.2","row":2,"series":"p = − 1","x":-0.525,"y":0.665},{"lam":"9.2","row":2,"series":"p = − 1","x":-0.34,"y":0.834},{"lam":"9.2","row":2,"series":"p = − 1","x":-0.22,"y":0.96},{"lam":"9.2","row":2,"series":"p = − 1","x":-0.09,"y":1.047},{"lam":"9.2","row":2,"series":"p = − 1","x":0.0,"y":1.054},{"lam":"9.2","row":2,"series":"p = − 1","x":0.09,"y":1.047},{"lam":"9.2","row":2,"series":"p = − 1","x":0.21,"y":0.976},{"lam":"9.2","row":2,"series":"p = − 1","x":0.4,"y":0.806},{"lam":"9.2","row":2,"series":"p = − 1","x":0.71,"y":0.566},{"lam":"9.2","row":2,"series":"p = − 1","x":1.01,"y":0.396},{"lam":"9.2","row":2,"series":"p = − 1","x":1.32,"y":0.24},{"lam":"9.2","row":2,"series":"p = − 1","x":1.63,"y":0.1},{"lam":"9.2","row":2,"series":"p = − 1","x":1.81,"y":0.03},{"lam":"9.2","row":2,"series":"p = − 1","x":1.9,"y":0.0},
{"lam":"9.2","row":2,"series":"p = − 1.5","x":-2.0,"y":0.0},{"lam":"9.2","row":2,"series":"p = − 1.5","x":-1.88,"y":0.014},{"lam":"9.2","row":2,"series":"p = − 1.5","x":-1.6,"y":0.085},{"lam":"9.2","row":2,"series":"p = − 1.5","x":-1.29,"y":0.18},{"lam":"9.2","row":2,"series":"p = − 1.5","x":-0.99,"y":0.325},{"lam":"9.2","row":2,"series":"p = − 1.5","x":-0.68,"y":0.523},{"lam":"9.2","row":2,"series":"p = − 1.5","x":-0.46,"y":0.693},{"lam":"9.2","row":2,"series":"p = − 1.5","x":-0.31,"y":0.863},{"lam":"9.2","row":2,"series":"p = − 1.5","x":-0.19,"y":0.983},{"lam":"9.2","row":2,"series":"p = − 1.5","x":-0.09,"y":1.01},{"lam":"9.2","row":2,"series":"p = − 1.5","x":0.09,"y":1.01},{"lam":"9.2","row":2,"series":"p = − 1.5","x":0.21,"y":0.997},{"lam":"9.2","row":2,"series":"p = − 1.5","x":0.34,"y":0.905},{"lam":"9.2","row":2,"series":"p = − 1.5","x":0.49,"y":0.778},{"lam":"9.2","row":2,"series":"p = − 1.5","x":0.71,"y":0.58},{"lam":"9.2","row":2,"series":"p = − 1.5","x":1.01,"y":0.368},{"lam":"9.2","row":2,"series":"p = − 1.5","x":1.32,"y":0.212},{"lam":"9.2","row":2,"series":"p = − 1.5","x":1.63,"y":0.085},{"lam":"9.2","row":2,"series":"p = − 1.5","x":1.81,"y":0.028},{"lam":"9.2","row":2,"series":"p = − 1.5","x":1.94,"y":0.007},{"lam":"9.2","row":2,"series":"p = − 1.5","x":2.0,"y":0.0}
]
},
"resolve": {"legend": {"color": "independent", "strokeDash": "independent"}},
"columns": 3,
"spacing": {"row": 88, "column": 0},
"concat": [
{
 "width": 433, "height": 342,
 "layer": [
  {"data": {"name": "band"}, "transform": [{"filter": "datum.lam == '0.9'"}],
   "mark": {"type": "area", "color": "#0000ff", "opacity": 0.25, "interpolate": "monotone", "clip": true},
   "encoding": {
    "x": {"field": "x", "type": "quantitative", "scale": {"domain": [-2, 2], "nice": false, "zero": false}, "axis": {"orient": "bottom", "values": [-2,-1,0,1,2], "labelExpr": "datum.value == 2 ? '' : '' + datum.value", "title": "Offset (arcsec)"}},
    "y": {"field": "lo", "type": "quantitative", "scale": {"domain": [-0.195, 1.25], "nice": false, "zero": false}, "axis": {"orient": "left", "values": [0,0.25,0.5,0.75,1,1.25], "labelExpr": "'' + datum.value", "title": "Normalized intensity"}},
    "y2": {"field": "hi"}}},
  {"data": {"name": "lines"}, "transform": [{"filter": "datum.lam == '0.9' && datum.series == 'Data'"}],
   "mark": {"type": "line", "strokeWidth": 3, "interpolate": "monotone", "clip": true},
   "encoding": {
    "x": {"field": "x", "type": "quantitative", "scale": {"domain": [-2, 2], "nice": false, "zero": false}, "axis": {"orient": "top", "values": [-2,-1,0,1,2], "labels": false, "title": null}},
    "y": {"field": "y", "type": "quantitative", "scale": {"domain": [-0.195, 1.25], "nice": false, "zero": false}, "axis": {"orient": "right", "values": [0,0.25,0.5,0.75,1,1.25], "labels": false, "title": null}},
    "color": {"field": "series", "type": "nominal", "scale": {"domain": ["Data","p = − 0.5","p = − 1","p = − 1.5"], "range": ["#0000ff","#ffa500","#ff0000","#008000"]}, "legend": {"title": null}},
    "strokeDash": {"field": "series", "type": "nominal", "scale": {"domain": ["Data","p = − 0.5","p = − 1","p = − 1.5"], "range": [[1,0],[13,5,3,5],[11,5],[1,0]]}, "legend": {"title": null}}}},
  {"data": {"name": "lines"}, "transform": [{"filter": "datum.lam == '0.9' && datum.series != 'Data' && (datum.row == 0 || datum.row == 1)"}],
   "mark": {"type": "line", "strokeWidth": 3, "interpolate": "monotone", "clip": true},
   "encoding": {
    "x": {"field": "x", "type": "quantitative", "scale": {"domain": [-2, 2], "nice": false, "zero": false}, "axis": null},
    "y": {"field": "y", "type": "quantitative", "scale": {"domain": [-0.195, 1.25], "nice": false, "zero": false}, "axis": null},
    "color": {"field": "series", "type": "nominal", "scale": {"domain": ["Data","p = − 0.5","p = − 1","p = − 1.5"], "range": ["#0000ff","#ffa500","#ff0000","#008000"]}, "legend": {"title": null}},
    "strokeDash": {"field": "series", "type": "nominal", "scale": {"domain": ["Data","p = − 0.5","p = − 1","p = − 1.5"], "range": [[1,0],[13,5,3,5],[11,5],[1,0]]}, "legend": {"title": null}}}},
  {"data": {"values": [{"t": "λ"}]}, "mark": {"type": "text", "align": "left", "baseline": "alphabetic", "fontSize": 21, "fontStyle": "italic", "font": "DejaVu Sans", "color": "black"},
   "encoding": {"x": {"datum": -1.905, "type": "quantitative", "scale": {"domain": [-2, 2], "nice": false, "zero": false}, "axis": null}, "y": {"datum": 1.155, "type": "quantitative", "scale": {"domain": [-0.195, 1.25], "nice": false, "zero": false}, "axis": null}, "text": {"field": "t"}}},
  {"data": {"values": [{"t": "= 0.9mm"}]}, "mark": {"type": "text", "align": "left", "baseline": "alphabetic", "fontSize": 21, "font": "DejaVu Sans", "color": "black"},
   "encoding": {"x": {"datum": -1.735, "type": "quantitative", "scale": {"domain": [-2, 2], "nice": false, "zero": false}, "axis": null}, "y": {"datum": 1.155, "type": "quantitative", "scale": {"domain": [-0.195, 1.25], "nice": false, "zero": false}, "axis": null}, "text": {"field": "t"}}}
 ],
 "resolve": {"axis": {"x": "independent", "y": "independent"}}
},
{
 "width": 433, "height": 342,
 "layer": [
  {"data": {"name": "band"}, "transform": [{"filter": "datum.lam == '2.1'"}],
   "mark": {"type": "area", "color": "#0000ff", "opacity": 0.25, "interpolate": "monotone", "clip": true},
   "encoding": {
    "x": {"field": "x", "type": "quantitative", "scale": {"domain": [-2, 2], "nice": false, "zero": false}, "axis": {"orient": "bottom", "values": [-2,-1,0,1,2], "labelExpr": "datum.value == 2 ? '' : '' + datum.value", "title": "Offset (arcsec)"}},
    "y": {"field": "lo", "type": "quantitative", "scale": {"domain": [-0.195, 1.25], "nice": false, "zero": false}, "axis": {"orient": "left", "values": [0,0.25,0.5,0.75,1,1.25], "labels": false, "title": null}},
    "y2": {"field": "hi"}}},
  {"data": {"name": "lines"}, "transform": [{"filter": "datum.lam == '2.1' && datum.series == 'Data'"}],
   "mark": {"type": "line", "strokeWidth": 3, "interpolate": "linear", "clip": true},
   "encoding": {
    "x": {"field": "x", "type": "quantitative", "scale": {"domain": [-2, 2], "nice": false, "zero": false}, "axis": {"orient": "top", "values": [-2,-1,0,1,2], "labels": false, "title": null}},
    "y": {"field": "y", "type": "quantitative", "scale": {"domain": [-0.195, 1.25], "nice": false, "zero": false}, "axis": {"orient": "right", "values": [0,0.25,0.5,0.75,1,1.25], "labels": false, "title": null}},
    "color": {"field": "series", "type": "nominal", "scale": {"domain": ["Data","p = − 0.5","p = − 1","p = − 1.5"], "range": ["#0000ff","#ffa500","#ff0000","#008000"]}, "legend": null},
    "strokeDash": {"field": "series", "type": "nominal", "scale": {"domain": ["Data","p = − 0.5","p = − 1","p = − 1.5"], "range": [[1,0],[13,5,3,5],[11,5],[1,0]]}, "legend": null}}},
  {"data": {"name": "lines"}, "transform": [{"filter": "datum.lam == '2.1' && datum.series != 'Data' && (datum.row == 0 || datum.row == 1)"}],
   "mark": {"type": "line", "strokeWidth": 3, "interpolate": "monotone", "clip": true},
   "encoding": {
    "x": {"field": "x", "type": "quantitative", "scale": {"domain": [-2, 2], "nice": false, "zero": false}, "axis": null},
    "y": {"field": "y", "type": "quantitative", "scale": {"domain": [-0.195, 1.25], "nice": false, "zero": false}, "axis": null},
    "color": {"field": "series", "type": "nominal", "scale": {"domain": ["Data","p = − 0.5","p = − 1","p = − 1.5"], "range": ["#0000ff","#ffa500","#ff0000","#008000"]}, "legend": null},
    "strokeDash": {"field": "series", "type": "nominal", "scale": {"domain": ["Data","p = − 0.5","p = − 1","p = − 1.5"], "range": [[1,0],[13,5,3,5],[11,5],[1,0]]}, "legend": null}}},
  {"data": {"values": [{"t": "λ"}]}, "mark": {"type": "text", "align": "left", "baseline": "alphabetic", "fontSize": 21, "fontStyle": "italic", "font": "DejaVu Sans", "color": "black"},
   "encoding": {"x": {"datum": -1.905, "type": "quantitative", "scale": {"domain": [-2, 2], "nice": false, "zero": false}, "axis": null}, "y": {"datum": 1.155, "type": "quantitative", "scale": {"domain": [-0.195, 1.25], "nice": false, "zero": false}, "axis": null}, "text": {"field": "t"}}},
  {"data": {"values": [{"t": "= 2.1mm"}]}, "mark": {"type": "text", "align": "left", "baseline": "alphabetic", "fontSize": 21, "font": "DejaVu Sans", "color": "black"},
   "encoding": {"x": {"datum": -1.735, "type": "quantitative", "scale": {"domain": [-2, 2], "nice": false, "zero": false}, "axis": null}, "y": {"datum": 1.155, "type": "quantitative", "scale": {"domain": [-0.195, 1.25], "nice": false, "zero": false}, "axis": null}, "text": {"field": "t"}}}
 ],
 "resolve": {"axis": {"x": "independent", "y": "independent"}}
},
{
 "width": 433, "height": 342,
 "layer": [
  {"data": {"values": [{"a": -0.195, "b": 0.195}]},
   "mark": {"type": "rect", "fill": "#c0c0c0", "stroke": "#b0b0b0", "strokeWidth": 1},
   "encoding": {
    "x": {"field": "a", "type": "quantitative", "scale": {"domain": [-2, 2], "nice": false, "zero": false}, "axis": null},
    "x2": {"field": "b"}}},
  {"data": {"name": "band"}, "transform": [{"filter": "datum.lam == '9.2'"}],
   "mark": {"type": "area", "color": "#0000ff", "opacity": 0.25, "interpolate": "monotone", "clip": true},
   "encoding": {
    "x": {"field": "x", "type": "quantitative", "scale": {"domain": [-2, 2], "nice": false, "zero": false}, "axis": {"orient": "bottom", "values": [-2,-1,0,1,2], "labelExpr": "'' + datum.value", "title": "Offset (arcsec)"}},
    "y": {"field": "lo", "type": "quantitative", "scale": {"domain": [-0.195, 1.25], "nice": false, "zero": false}, "axis": {"orient": "left", "values": [0,0.25,0.5,0.75,1,1.25], "labels": false, "title": null}},
    "y2": {"field": "hi"}}},
  {"data": {"name": "lines"}, "transform": [{"filter": "datum.lam == '9.2' && datum.series == 'Data'"}],
   "mark": {"type": "line", "strokeWidth": 3, "interpolate": "monotone", "clip": true},
   "encoding": {
    "x": {"field": "x", "type": "quantitative", "scale": {"domain": [-2, 2], "nice": false, "zero": false}, "axis": {"orient": "top", "values": [-2,-1,0,1,2], "labels": false, "title": null}},
    "y": {"field": "y", "type": "quantitative", "scale": {"domain": [-0.195, 1.25], "nice": false, "zero": false}, "axis": {"orient": "right", "values": [0,0.25,0.5,0.75,1,1.25], "labels": false, "title": null}},
    "color": {"field": "series", "type": "nominal", "scale": {"domain": ["Data","p = − 0.5","p = − 1","p = − 1.5"], "range": ["#0000ff","#ffa500","#ff0000","#008000"]}, "legend": null},
    "strokeDash": {"field": "series", "type": "nominal", "scale": {"domain": ["Data","p = − 0.5","p = − 1","p = − 1.5"], "range": [[1,0],[13,5,3,5],[11,5],[1,0]]}, "legend": null}}},
  {"data": {"name": "lines"}, "transform": [{"filter": "datum.lam == '9.2' && datum.series != 'Data' && (datum.row == 0 || datum.row == 1)"}],
   "mark": {"type": "line", "strokeWidth": 3, "interpolate": "monotone", "clip": true},
   "encoding": {
    "x": {"field": "x", "type": "quantitative", "scale": {"domain": [-2, 2], "nice": false, "zero": false}, "axis": null},
    "y": {"field": "y", "type": "quantitative", "scale": {"domain": [-0.195, 1.25], "nice": false, "zero": false}, "axis": null},
    "color": {"field": "series", "type": "nominal", "scale": {"domain": ["Data","p = − 0.5","p = − 1","p = − 1.5"], "range": ["#0000ff","#ffa500","#ff0000","#008000"]}, "legend": null},
    "strokeDash": {"field": "series", "type": "nominal", "scale": {"domain": ["Data","p = − 0.5","p = − 1","p = − 1.5"], "range": [[1,0],[13,5,3,5],[11,5],[1,0]]}, "legend": null}}},
  {"data": {"values": [{"t": "λ"}]}, "mark": {"type": "text", "align": "left", "baseline": "alphabetic", "fontSize": 21, "fontStyle": "italic", "font": "DejaVu Sans", "color": "black"},
   "encoding": {"x": {"datum": -1.905, "type": "quantitative", "scale": {"domain": [-2, 2], "nice": false, "zero": false}, "axis": null}, "y": {"datum": 1.155, "type": "quantitative", "scale": {"domain": [-0.195, 1.25], "nice": false, "zero": false}, "axis": null}, "text": {"field": "t"}}},
  {"data": {"values": [{"t": "= 9.2mm"}]}, "mark": {"type": "text", "align": "left", "baseline": "alphabetic", "fontSize": 21, "font": "DejaVu Sans", "color": "black"},
   "encoding": {"x": {"datum": -1.735, "type": "quantitative", "scale": {"domain": [-2, 2], "nice": false, "zero": false}, "axis": null}, "y": {"datum": 1.155, "type": "quantitative", "scale": {"domain": [-0.195, 1.25], "nice": false, "zero": false}, "axis": null}, "text": {"field": "t"}}}
 ],
 "resolve": {"axis": {"x": "independent", "y": "independent"}}
},
{
 "width": 433, "height": 342,
 "layer": [
  {"data": {"name": "band"}, "transform": [{"filter": "datum.lam == '0.9'"}],
   "mark": {"type": "area", "color": "#0000ff", "opacity": 0.25, "interpolate": "monotone", "clip": true},
   "encoding": {
    "x": {"field": "x", "type": "quantitative", "scale": {"domain": [-2, 2], "nice": false, "zero": false}, "axis": {"orient": "bottom", "values": [-2,-1,0,1,2], "labelExpr": "datum.value == 2 ? '' : '' + datum.value", "title": "Offset (arcsec)"}},
    "y": {"field": "lo", "type": "quantitative", "scale": {"domain": [-0.195, 1.25], "nice": false, "zero": false}, "axis": {"orient": "left", "values": [0,0.25,0.5,0.75,1,1.25], "labelExpr": "'' + datum.value", "title": "Normalized intensity"}},
    "y2": {"field": "hi"}}},
  {"data": {"name": "lines"}, "transform": [{"filter": "datum.lam == '0.9' && datum.series == 'Data'"}],
   "mark": {"type": "line", "strokeWidth": 3, "interpolate": "monotone", "clip": true},
   "encoding": {
    "x": {"field": "x", "type": "quantitative", "scale": {"domain": [-2, 2], "nice": false, "zero": false}, "axis": {"orient": "top", "values": [-2,-1,0,1,2], "labels": false, "title": null}},
    "y": {"field": "y", "type": "quantitative", "scale": {"domain": [-0.195, 1.25], "nice": false, "zero": false}, "axis": {"orient": "right", "values": [0,0.25,0.5,0.75,1,1.25], "labels": false, "title": null}},
    "color": {"field": "series", "type": "nominal", "scale": {"domain": ["Data","p = − 0.5","p = − 1","p = − 1.5"], "range": ["#0000ff","#ffa500","#ff0000","#008000"]}, "legend": {"title": null}},
    "strokeDash": {"field": "series", "type": "nominal", "scale": {"domain": ["Data","p = − 0.5","p = − 1","p = − 1.5"], "range": [[1,0],[13,5,3,5],[11,5],[1,0]]}, "legend": {"title": null}}}},
  {"data": {"name": "lines"}, "transform": [{"filter": "datum.lam == '0.9' && datum.series != 'Data' && (datum.row == 0 || datum.row == 2)"}],
   "mark": {"type": "line", "strokeWidth": 3, "interpolate": "monotone", "clip": true},
   "encoding": {
    "x": {"field": "x", "type": "quantitative", "scale": {"domain": [-2, 2], "nice": false, "zero": false}, "axis": null},
    "y": {"field": "y", "type": "quantitative", "scale": {"domain": [-0.195, 1.25], "nice": false, "zero": false}, "axis": null},
    "color": {"field": "series", "type": "nominal", "scale": {"domain": ["Data","p = − 0.5","p = − 1","p = − 1.5"], "range": ["#0000ff","#ffa500","#ff0000","#008000"]}, "legend": {"title": null}},
    "strokeDash": {"field": "series", "type": "nominal", "scale": {"domain": ["Data","p = − 0.5","p = − 1","p = − 1.5"], "range": [[1,0],[13,5,3,5],[11,5],[1,0]]}, "legend": {"title": null}}}},
  {"data": {"values": [{"t": "λ"}]}, "mark": {"type": "text", "align": "left", "baseline": "alphabetic", "fontSize": 21, "fontStyle": "italic", "font": "DejaVu Sans", "color": "black"},
   "encoding": {"x": {"datum": -1.905, "type": "quantitative", "scale": {"domain": [-2, 2], "nice": false, "zero": false}, "axis": null}, "y": {"datum": 1.155, "type": "quantitative", "scale": {"domain": [-0.195, 1.25], "nice": false, "zero": false}, "axis": null}, "text": {"field": "t"}}},
  {"data": {"values": [{"t": "= 0.9mm"}]}, "mark": {"type": "text", "align": "left", "baseline": "alphabetic", "fontSize": 21, "font": "DejaVu Sans", "color": "black"},
   "encoding": {"x": {"datum": -1.735, "type": "quantitative", "scale": {"domain": [-2, 2], "nice": false, "zero": false}, "axis": null}, "y": {"datum": 1.155, "type": "quantitative", "scale": {"domain": [-0.195, 1.25], "nice": false, "zero": false}, "axis": null}, "text": {"field": "t"}}}
 ],
 "resolve": {"axis": {"x": "independent", "y": "independent"}}
},
{
 "width": 433, "height": 342,
 "layer": [
  {"data": {"name": "band"}, "transform": [{"filter": "datum.lam == '2.1'"}],
   "mark": {"type": "area", "color": "#0000ff", "opacity": 0.25, "interpolate": "monotone", "clip": true},
   "encoding": {
    "x": {"field": "x", "type": "quantitative", "scale": {"domain": [-2, 2], "nice": false, "zero": false}, "axis": {"orient": "bottom", "values": [-2,-1,0,1,2], "labelExpr": "datum.value == 2 ? '' : '' + datum.value", "title": "Offset (arcsec)"}},
    "y": {"field": "lo", "type": "quantitative", "scale": {"domain": [-0.195, 1.25], "nice": false, "zero": false}, "axis": {"orient": "left", "values": [0,0.25,0.5,0.75,1,1.25], "labels": false, "title": null}},
    "y2": {"field": "hi"}}},
  {"data": {"name": "lines"}, "transform": [{"filter": "datum.lam == '2.1' && datum.series == 'Data'"}],
   "mark": {"type": "line", "strokeWidth": 3, "interpolate": "linear", "clip": true},
   "encoding": {
    "x": {"field": "x", "type": "quantitative", "scale": {"domain": [-2, 2], "nice": false, "zero": false}, "axis": {"orient": "top", "values": [-2,-1,0,1,2], "labels": false, "title": null}},
    "y": {"field": "y", "type": "quantitative", "scale": {"domain": [-0.195, 1.25], "nice": false, "zero": false}, "axis": {"orient": "right", "values": [0,0.25,0.5,0.75,1,1.25], "labels": false, "title": null}},
    "color": {"field": "series", "type": "nominal", "scale": {"domain": ["Data","p = − 0.5","p = − 1","p = − 1.5"], "range": ["#0000ff","#ffa500","#ff0000","#008000"]}, "legend": null},
    "strokeDash": {"field": "series", "type": "nominal", "scale": {"domain": ["Data","p = − 0.5","p = − 1","p = − 1.5"], "range": [[1,0],[13,5,3,5],[11,5],[1,0]]}, "legend": null}}},
  {"data": {"name": "lines"}, "transform": [{"filter": "datum.lam == '2.1' && datum.series != 'Data' && (datum.row == 0 || datum.row == 2)"}],
   "mark": {"type": "line", "strokeWidth": 3, "interpolate": "monotone", "clip": true},
   "encoding": {
    "x": {"field": "x", "type": "quantitative", "scale": {"domain": [-2, 2], "nice": false, "zero": false}, "axis": null},
    "y": {"field": "y", "type": "quantitative", "scale": {"domain": [-0.195, 1.25], "nice": false, "zero": false}, "axis": null},
    "color": {"field": "series", "type": "nominal", "scale": {"domain": ["Data","p = − 0.5","p = − 1","p = − 1.5"], "range": ["#0000ff","#ffa500","#ff0000","#008000"]}, "legend": null},
    "strokeDash": {"field": "series", "type": "nominal", "scale": {"domain": ["Data","p = − 0.5","p = − 1","p = − 1.5"], "range": [[1,0],[13,5,3,5],[11,5],[1,0]]}, "legend": null}}},
  {"data": {"values": [{"t": "λ"}]}, "mark": {"type": "text", "align": "left", "baseline": "alphabetic", "fontSize": 21, "fontStyle": "italic", "font": "DejaVu Sans", "color": "black"},
   "encoding": {"x": {"datum": -1.905, "type": "quantitative", "scale": {"domain": [-2, 2], "nice": false, "zero": false}, "axis": null}, "y": {"datum": 1.155, "type": "quantitative", "scale": {"domain": [-0.195, 1.25], "nice": false, "zero": false}, "axis": null}, "text": {"field": "t"}}},
  {"data": {"values": [{"t": "= 2.1mm"}]}, "mark": {"type": "text", "align": "left", "baseline": "alphabetic", "fontSize": 21, "font": "DejaVu Sans", "color": "black"},
   "encoding": {"x": {"datum": -1.735, "type": "quantitative", "scale": {"domain": [-2, 2], "nice": false, "zero": false}, "axis": null}, "y": {"datum": 1.155, "type": "quantitative", "scale": {"domain": [-0.195, 1.25], "nice": false, "zero": false}, "axis": null}, "text": {"field": "t"}}}
 ],
 "resolve": {"axis": {"x": "independent", "y": "independent"}}
},
{
 "width": 433, "height": 342,
 "layer": [
  {"data": {"values": [{"a": -0.195, "b": 0.195}]},
   "mark": {"type": "rect", "fill": "#c0c0c0", "stroke": "#b0b0b0", "strokeWidth": 1},
   "encoding": {
    "x": {"field": "a", "type": "quantitative", "scale": {"domain": [-2, 2], "nice": false, "zero": false}, "axis": null},
    "x2": {"field": "b"}}},
  {"data": {"name": "band"}, "transform": [{"filter": "datum.lam == '9.2'"}],
   "mark": {"type": "area", "color": "#0000ff", "opacity": 0.25, "interpolate": "monotone", "clip": true},
   "encoding": {
    "x": {"field": "x", "type": "quantitative", "scale": {"domain": [-2, 2], "nice": false, "zero": false}, "axis": {"orient": "bottom", "values": [-2,-1,0,1,2], "labelExpr": "'' + datum.value", "title": "Offset (arcsec)"}},
    "y": {"field": "lo", "type": "quantitative", "scale": {"domain": [-0.195, 1.25], "nice": false, "zero": false}, "axis": {"orient": "left", "values": [0,0.25,0.5,0.75,1,1.25], "labels": false, "title": null}},
    "y2": {"field": "hi"}}},
  {"data": {"name": "lines"}, "transform": [{"filter": "datum.lam == '9.2' && datum.series == 'Data'"}],
   "mark": {"type": "line", "strokeWidth": 3, "interpolate": "monotone", "clip": true},
   "encoding": {
    "x": {"field": "x", "type": "quantitative", "scale": {"domain": [-2, 2], "nice": false, "zero": false}, "axis": {"orient": "top", "values": [-2,-1,0,1,2], "labels": false, "title": null}},
    "y": {"field": "y", "type": "quantitative", "scale": {"domain": [-0.195, 1.25], "nice": false, "zero": false}, "axis": {"orient": "right", "values": [0,0.25,0.5,0.75,1,1.25], "labels": false, "title": null}},
    "color": {"field": "series", "type": "nominal", "scale": {"domain": ["Data","p = − 0.5","p = − 1","p = − 1.5"], "range": ["#0000ff","#ffa500","#ff0000","#008000"]}, "legend": null},
    "strokeDash": {"field": "series", "type": "nominal", "scale": {"domain": ["Data","p = − 0.5","p = − 1","p = − 1.5"], "range": [[1,0],[13,5,3,5],[11,5],[1,0]]}, "legend": null}}},
  {"data": {"name": "lines"}, "transform": [{"filter": "datum.lam == '9.2' && datum.series != 'Data' && (datum.row == 0 || datum.row == 2)"}],
   "mark": {"type": "line", "strokeWidth": 3, "interpolate": "monotone", "clip": true},
   "encoding": {
    "x": {"field": "x", "type": "quantitative", "scale": {"domain": [-2, 2], "nice": false, "zero": false}, "axis": null},
    "y": {"field": "y", "type": "quantitative", "scale": {"domain": [-0.195, 1.25], "nice": false, "zero": false}, "axis": null},
    "color": {"field": "series", "type": "nominal", "scale": {"domain": ["Data","p = − 0.5","p = − 1","p = − 1.5"], "range": ["#0000ff","#ffa500","#ff0000","#008000"]}, "legend": null},
    "strokeDash": {"field": "series", "type": "nominal", "scale": {"domain": ["Data","p = − 0.5","p = − 1","p = − 1.5"], "range": [[1,0],[13,5,3,5],[11,5],[1,0]]}, "legend": null}}},
  {"data": {"values": [{"t": "λ"}]}, "mark": {"type": "text", "align": "left", "baseline": "alphabetic", "fontSize": 21, "fontStyle": "italic", "font": "DejaVu Sans", "color": "black"},
   "encoding": {"x": {"datum": -1.905, "type": "quantitative", "scale": {"domain": [-2, 2], "nice": false, "zero": false}, "axis": null}, "y": {"datum": 1.155, "type": "quantitative", "scale": {"domain": [-0.195, 1.25], "nice": false, "zero": false}, "axis": null}, "text": {"field": "t"}}},
  {"data": {"values": [{"t": "= 9.2mm"}]}, "mark": {"type": "text", "align": "left", "baseline": "alphabetic", "fontSize": 21, "font": "DejaVu Sans", "color": "black"},
   "encoding": {"x": {"datum": -1.735, "type": "quantitative", "scale": {"domain": [-2, 2], "nice": false, "zero": false}, "axis": null}, "y": {"datum": 1.155, "type": "quantitative", "scale": {"domain": [-0.195, 1.25], "nice": false, "zero": false}, "axis": null}, "text": {"field": "t"}}}
 ],
 "resolve": {"axis": {"x": "independent", "y": "independent"}}
}
]
}
